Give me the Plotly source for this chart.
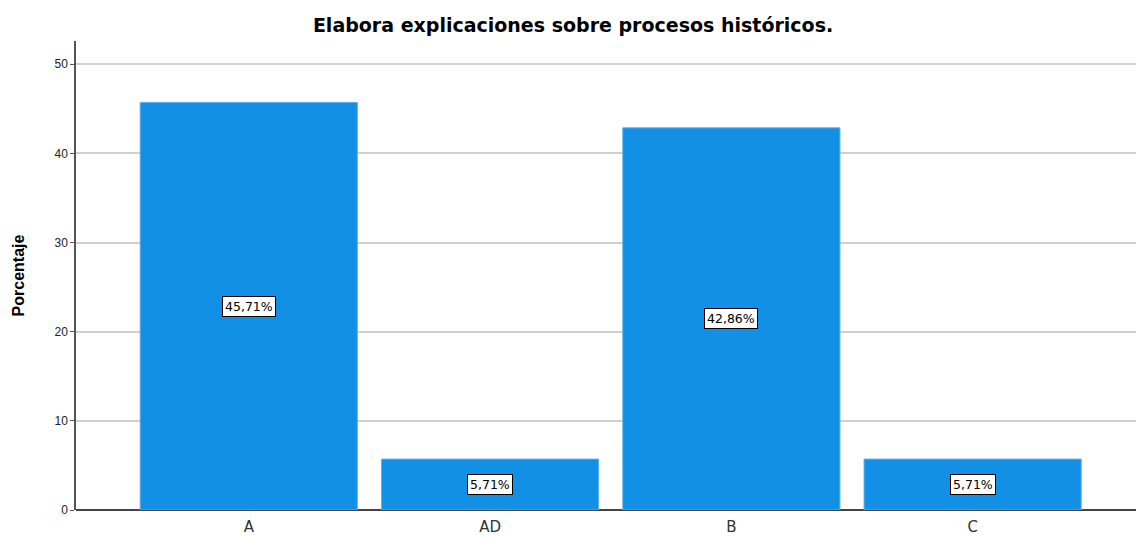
import plotly.graph_objects as go

categories = ["A", "AD", "B", "C"]
values = [45.71, 5.71, 42.86, 5.71]
labels = ["45,71%", "5,71%", "42,86%", "5,71%"]
y_ticks = [0, 10, 20, 30, 40, 50]

fig = go.Figure()
fig.add_trace(go.Bar(
    x=categories, y=values,
    marker=dict(color="#1290E6", line=dict(color="#5BB0EE", width=1)),
    width=0.9, hoverinfo="skip",
))

for c, v, t in zip(categories, values, labels):
    fig.add_annotation(
        x=c, y=v / 2, xref="x", yref="y", text=t, showarrow=False,
        font=dict(family="DejaVu Sans", size=12.5, color="black"),
        bgcolor="white", bordercolor="black", borderwidth=1, borderpad=2,
    )

fig.update_layout(
    width=1137, height=537,
    margin=dict(l=76, r=1, t=41, b=27),
    plot_bgcolor="white", paper_bgcolor="white",
    showlegend=False,
    title=dict(text="<b>Elabora explicaciones sobre procesos históricos.</b>",
               x=0.504, xanchor="center", y=0.953, yanchor="middle",
               font=dict(family="DejaVu Sans", size=19, color="black")),
    xaxis=dict(range=[-0.716, 3.677], showgrid=False, showline=False, automargin=False,
               ticks="", tickfont=dict(family="DejaVu Sans", size=15, color="#333"),
               ticklabelstandoff=6, zeroline=False),
    yaxis=dict(range=[0, 52.6], tickvals=y_ticks, showgrid=True, gridcolor="#D0D0D0",
               gridwidth=1.5, showline=True, linecolor="#555", linewidth=1.5,
               ticks="outside", ticklen=4, tickcolor="#555", automargin=False,
               tickfont=dict(family="Arial, Liberation Sans", size=12, color="#222"),
               zeroline=True, zerolinecolor="#444", zerolinewidth=1.5,
               title=dict(text="<b>Porcentaje</b>", standoff=26,
                          font=dict(family="Liberation Sans Narrow, Arial Narrow, Liberation Sans", size=16, color="black"))),
)

fig.write_html("out.html", config={"displayModeBar": False},
               post_script="document.body.style.margin='0';document.body.style.padding='0';")
